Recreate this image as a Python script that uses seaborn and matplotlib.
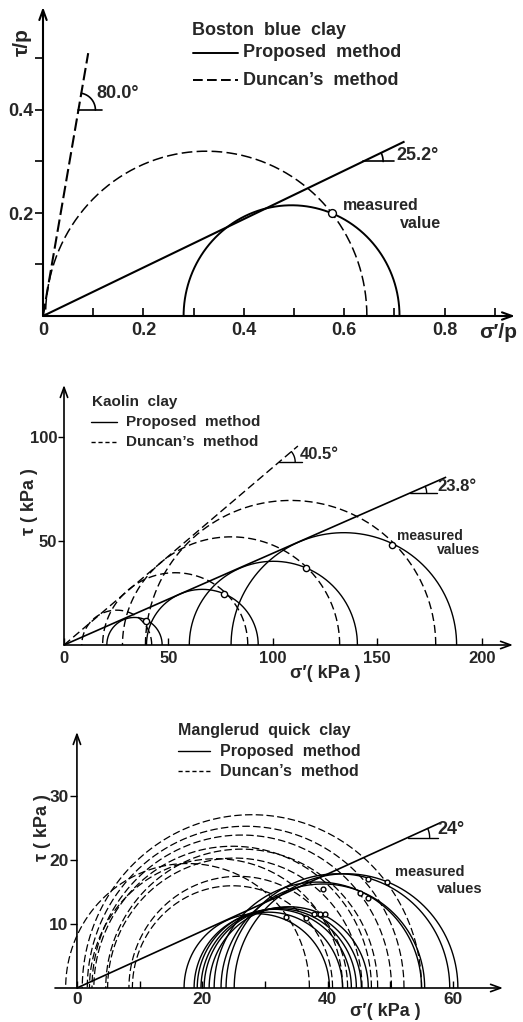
import numpy as np
import pandas as pd
import matplotlib
matplotlib.use("Agg")
import matplotlib.pyplot as plt
import seaborn as sns

# ---------------- data ----------------
# Boston blue clay (stresses normalised by p)
boston_prop_left = [0.28]
boston_prop_right = [0.71]
boston_dunc_left = [0.005]
boston_dunc_right = [0.645]
boston_prop_angle = 25.2
boston_dunc_angle = 80.0
boston_prop_line_end = 0.72
boston_dunc_line_end = 0.09
boston_meas_x = [0.575]
boston_meas_y = [0.20]
boston_xticks = [0, 0.2, 0.4, 0.6, 0.8]
boston_xtick_labels = ["0", "0.2", "0.4", "0.6", "0.8"]
boston_xminor = [0.1, 0.3, 0.5, 0.7, 0.9]
boston_yticks = [0.2, 0.4]
boston_ytick_labels = ["0.2", "0.4"]
boston_yminor = [0.1, 0.3, 0.5]

# Kaolin clay (kPa)
kaolin_prop_left = [20.5, 39.5, 60.0, 80.0]
kaolin_prop_right = [47.0, 93.0, 140.5, 188.0]
kaolin_dunc_left = [8.5, 18.5, 28.0, 39.0]
kaolin_dunc_right = [42.0, 88.0, 132.0, 178.0]
kaolin_prop_angle = 23.8
kaolin_dunc_angle = 40.5
kaolin_prop_line_end = 183
kaolin_dunc_line_end = 112
kaolin_meas_x = [39.1, 76.6, 115.8, 157.1]
kaolin_meas_y = [11.5, 24.4, 36.9, 48.1]
kaolin_xticks = [0, 50, 100, 150, 200]
kaolin_xtick_labels = ["0", "50", "100", "150", "200"]
kaolin_yticks = [50, 100]
kaolin_ytick_labels = ["50", "100"]

# Manglerud quick clay (kPa)
mang_prop_left = [17.1, 18.7, 19.2, 19.8, 20.3, 21.1, 21.9, 23.0, 23.8, 25.1]
mang_prop_right = [40.3, 42.4, 43.8, 44.6, 45.4, 46.5, 55.0, 55.5, 59.5, 60.8]
mang_dunc_left = [-1.8, 0.85, 1.65, 2.4, 2.7, 4.6, 4.9, 8.3, 8.85, 2.0]
mang_dunc_right = [37.1, 55.0, 52.2, 50.2, 47.0, 48.0, 45.5, 43.2, 40.8, 42.4]
mang_prop_angle = 24.0
mang_prop_line_end = 58
mang_meas_x = [46.4, 49.5, 39.3, 45.1, 46.4, 37.9, 38.8, 39.6, 36.5, 33.4]
mang_meas_y = [17.1, 16.5, 15.5, 14.9, 14.1, 11.6, 11.5, 11.5, 11.0, 11.1]
mang_xticks = [0, 20, 40, 60]
mang_xtick_labels = ["0", "20", "40", "60"]
mang_xminor = [10, 30, 50]
mang_yticks = [10, 20, 30]
mang_ytick_labels = ["10", "20", "30"]

# ---------------- style ----------------
sns.set_theme(style="white")
plt.rcParams["font.family"] = ["Liberation Sans", "DejaVu Sans"]
plt.rcParams["font.weight"] = "bold"
plt.rcParams["axes.unicode_minus"] = False

W, H = 523, 1022
fig = plt.figure(figsize=(W / 100, H / 100), dpi=100)
fig.patch.set_facecolor("white")


def add_axes_px(x0, y0, x1, y1):
    return fig.add_axes([x0 / W, 1 - y0 / H, (x1 - x0) / W, (y0 - y1) / H])


def scales(ax):
    pos = ax.get_position()
    xl, yl = ax.get_xlim(), ax.get_ylim()
    return pos.width * W / (xl[1] - xl[0]), pos.height * H / (yl[1] - yl[0])


def arcs(lefts, rights, n=300):
    rows = []
    for i, (l, r) in enumerate(zip(lefts, rights)):
        c, rad = (l + r) / 2, (r - l) / 2
        t = np.linspace(0, np.pi, n)
        rows.append(pd.DataFrame({"x": c + rad * np.cos(t), "y": rad * np.sin(t), "id": i}))
    return pd.concat(rows, ignore_index=True)


def draw_lines(ax, df, lw, dashes=None):
    n0 = len(ax.lines)
    sns.lineplot(data=df, x="x", y="y", units="id", estimator=None, sort=False,
                 color="black", lw=lw, ax=ax, legend=False)
    for ln in ax.lines[n0:]:
        ln.set_clip_on(False)
        ln.set_solid_capstyle("butt")
        if dashes:
            ln.set_dashes(dashes)


def envelope(angle, xend):
    return pd.DataFrame({"x": [0, xend], "y": [0, xend * np.tan(np.radians(angle))], "id": 0})


def angle_mark(ax, angle, yv, hlen_px, rad_px, lw):
    sx, sy = scales(ax)
    x0 = yv / np.tan(np.radians(angle))
    ax.plot([x0, x0 + hlen_px / sx], [yv, yv], color="black", lw=lw)
    vis = np.arctan(np.tan(np.radians(angle)) * sy / sx)
    t = np.linspace(0, vis, 40)
    ax.plot(x0 + rad_px * np.cos(t) / sx, yv + rad_px * np.sin(t) / sy, color="black", lw=lw)


def axis_arrows(ax, xa, xb, yb, lw):
    props = dict(arrowstyle="->,head_length=0.6,head_width=0.22", lw=lw, color="black",
                 shrinkA=0, shrinkB=0)
    ax.annotate("", xy=(xb, 0), xytext=(xa, 0), arrowprops=props, annotation_clip=False)
    ax.annotate("", xy=(0, yb), xytext=(0, 0), arrowprops=props, annotation_clip=False)


def legend_block(ax, title, xt, yt, xl0, xl1, xtext, y1, y2, fs, lw, dashes):
    ax.text(xt, yt, title, fontsize=fs, fontweight="bold", ha="left", va="center")
    ax.plot([xl0, xl1], [y1, y1], color="black", lw=lw, clip_on=False)
    ln, = ax.plot([xl0, xl1], [y2, y2], color="black", lw=lw, clip_on=False)
    ln.set_dashes(dashes)
    ax.text(xtext, y1, "Proposed  method", fontsize=fs, fontweight="bold", ha="left", va="center")
    ax.text(xtext, y2, "Duncan\u2019s  method", fontsize=fs, fontweight="bold", ha="left", va="center")


def style_axes(ax, fs):
    for s in ax.spines.values():
        s.set_visible(False)
    ax.set_xlabel("")
    ax.set_ylabel("")
    ax.grid(False)
    ax.set_facecolor("white")
    for lbl in ax.get_xticklabels() + ax.get_yticklabels():
        lbl.set_fontweight("bold")
        lbl.set_fontsize(fs)


def measured(ax, xs, ys, s):
    sns.scatterplot(x=xs, y=ys, ax=ax, marker="o", s=s, facecolor="white",
                    edgecolor="black", linewidth=1.0, zorder=5, legend=False, clip_on=False)


# ---------------- top panel: Boston blue clay ----------------
ax1 = add_axes_px(43, 316, 515, 7)
ax1.set_xlim(0, 0.94)
ax1.set_ylim(0, 0.6)
draw_lines(ax1, arcs(boston_prop_left, boston_prop_right), 1.4)
draw_lines(ax1, arcs(boston_dunc_left, boston_dunc_right), 1.1, (7, 2.8))
draw_lines(ax1, envelope(boston_prop_angle, boston_prop_line_end), 1.5)
draw_lines(ax1, envelope(boston_dunc_angle, boston_dunc_line_end), 1.5, (6, 2.2))
measured(ax1, boston_meas_x, boston_meas_y, 32)
angle_mark(ax1, boston_dunc_angle, 0.40, 24, 17, 1.2)
angle_mark(ax1, boston_prop_angle, 0.30, 31, 20, 1.2)
ax1.text(0.107, 0.433, "80.0\u00b0", fontsize=13, fontweight="bold", ha="left", va="center")
ax1.text(0.7045, 0.3126, "25.2\u00b0", fontsize=13, fontweight="bold", ha="left", va="center")
ax1.text(0.597, 0.214, "measured", fontsize=11.5, fontweight="bold", ha="left", va="center")
ax1.text(0.711, 0.180, "value", fontsize=11.5, fontweight="bold", ha="left", va="center")
legend_block(ax1, "Boston  blue  clay", 0.2965, 0.555, 0.2985, 0.388, 0.398, 0.511, 0.458,
             13, 1.4, (5, 2.2))
ax1.text(-0.0418, 0.532, "\u03c4/p", fontsize=15, fontweight="bold", rotation=90,
         ha="center", va="center")
ax1.text(0.906, -0.033, "\u03c3\u2032/p", fontsize=15, fontweight="bold", ha="center", va="center")
axis_arrows(ax1, 0, 0.94, 0.6, 1.5)
ax1.set_xticks(boston_xticks, boston_xtick_labels)
ax1.set_xticks(boston_xminor, minor=True)
ax1.set_yticks(boston_yticks, boston_ytick_labels)
ax1.set_yticks(boston_yminor, minor=True)
ax1.tick_params(axis="x", which="both", bottom=True, direction="in", length=6, width=1.2,
                color="black", labelsize=13, pad=4)
ax1.tick_params(axis="y", which="both", left=True, direction="out", length=6, width=1.2,
                color="black", labelsize=13, pad=1)
style_axes(ax1, 13)

# ---------------- middle panel: Kaolin clay ----------------
ax2 = add_axes_px(64, 645, 513, 385)
ax2.set_xlim(0, 215)
ax2.set_ylim(0, 125)
draw_lines(ax2, arcs(kaolin_prop_left, kaolin_prop_right), 1.0)
draw_lines(ax2, arcs(kaolin_dunc_left, kaolin_dunc_right), 1.0, (5.8, 2.9))
draw_lines(ax2, envelope(kaolin_prop_angle, kaolin_prop_line_end), 1.2)
draw_lines(ax2, envelope(kaolin_dunc_angle, kaolin_dunc_line_end), 1.0, (5.8, 2.9))
measured(ax2, kaolin_meas_x, kaolin_meas_y, 20)
angle_mark(ax2, kaolin_dunc_angle, 88, 23, 16, 1.0)
angle_mark(ax2, kaolin_prop_angle, 73, 27, 17, 1.0)
ax2.text(113, 91.8, "40.5\u00b0", fontsize=12, fontweight="bold", ha="left", va="center")
ax2.text(179, 76.4, "23.8\u00b0", fontsize=12, fontweight="bold", ha="left", va="center")
ax2.text(159.5, 52.6, "measured", fontsize=10, fontweight="bold", ha="left", va="center")
ax2.text(178.6, 45.6, "values", fontsize=10, fontweight="bold", ha="left", va="center")
legend_block(ax2, "Kaolin  clay", 13.3, 116.8, 12.9, 25.4, 29.7, 107.2, 97.6, 11, 1.0, (3, 2))
ax2.text(-16.3, 69.2, "\u03c4 ( kPa )", fontsize=13, fontweight="bold", rotation=90,
         ha="center", va="center")
ax2.text(124.9, -13.9, "\u03c3\u2032( kPa )", fontsize=13, fontweight="bold", ha="center", va="center")
axis_arrows(ax2, 0, 215, 125, 1.2)
ax2.set_xticks(kaolin_xticks, kaolin_xtick_labels)
ax2.set_yticks(kaolin_yticks, kaolin_ytick_labels)
ax2.tick_params(axis="x", which="both", bottom=True, direction="in", length=5, width=1.0,
                color="black", labelsize=12, pad=4)
ax2.tick_params(axis="y", which="both", left=True, direction="out", length=4, width=1.0,
                color="black", labelsize=12, pad=1)
style_axes(ax2, 12)

# ---------------- bottom panel: Manglerud quick clay ----------------
ax3 = add_axes_px(55, 988, 503, 732)
ax3.set_xlim(-3.5, 68)
ax3.set_ylim(0, 40)
ax3.spines["left"].set_position(("data", 0))
draw_lines(ax3, arcs(mang_prop_left, mang_prop_right), 1.0)
draw_lines(ax3, arcs(mang_dunc_left, mang_dunc_right), 0.9, (6, 2.6))
draw_lines(ax3, envelope(mang_prop_angle, mang_prop_line_end), 1.2)
measured(ax3, mang_meas_x, mang_meas_y, 12)
angle_mark(ax3, mang_prop_angle, 23.5, 30, 22, 1.0)
ax3.text(57.5, 24.7, "24\u00b0", fontsize=13, fontweight="bold", ha="left", va="center")
ax3.text(50.8, 18.1, "measured", fontsize=10.5, fontweight="bold", ha="left", va="center")
ax3.text(57.5, 15.4, "values", fontsize=10.5, fontweight="bold", ha="left", va="center")
legend_block(ax3, "Manglerud  quick  clay", 16.1, 40.3, 16.1, 21.2, 22.8, 37.0, 33.9,
             11.5, 1.0, (3, 2))
ax3.text(-5.57, 25.0, "\u03c4 ( kPa )", fontsize=13, fontweight="bold", rotation=90,
         ha="center", va="center")
ax3.text(49.2, -3.75, "\u03c3\u2032( kPa )", fontsize=13, fontweight="bold", ha="center", va="center")
axis_arrows(ax3, -3.5, 68, 40, 1.2)
ax3.set_xticks(mang_xticks, mang_xtick_labels)
ax3.set_xticks(mang_xminor, minor=True)
ax3.set_yticks(mang_yticks, mang_ytick_labels)
ax3.tick_params(axis="x", which="both", bottom=True, direction="in", length=5, width=1.0,
                color="black", labelsize=12.5, pad=3)
ax3.tick_params(axis="y", which="both", left=True, direction="out", length=5, width=1.0,
                color="black", labelsize=12.5, pad=1)
style_axes(ax3, 12.5)

fig.savefig("out.png", dpi=100, facecolor="white")
